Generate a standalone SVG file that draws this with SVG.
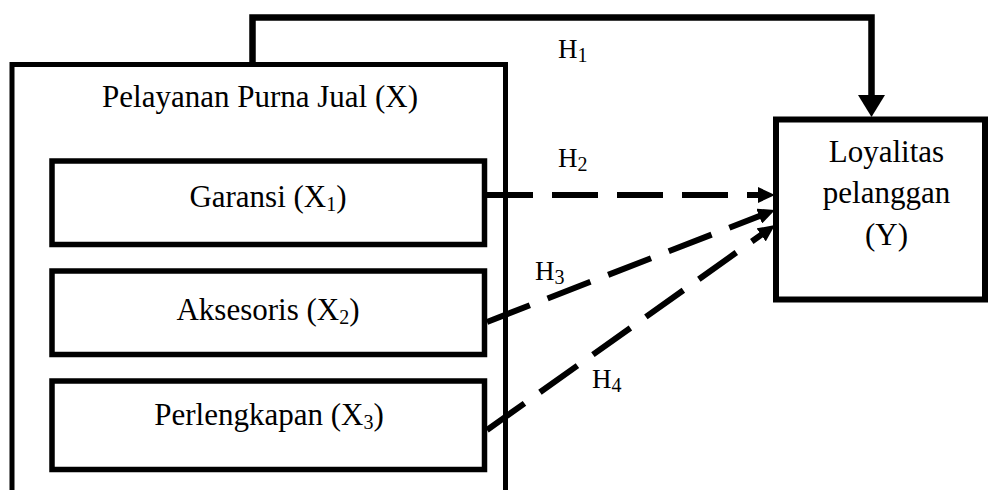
<svg xmlns="http://www.w3.org/2000/svg" width="989" height="490" viewBox="0 0 989 490">
<style>
text{font-family:"Liberation Serif","Times New Roman",serif;fill:#000}
.t{font-size:31px;text-anchor:middle}
.h{font-size:27px}
.sub{font-size:20px}
.box{fill:none;stroke:#000;stroke-width:5.5}
.solid{fill:none;stroke:#000;stroke-width:6.5}
.dash{fill:none;stroke:#000;stroke-width:6;stroke-dasharray:46 19}
</style>
<defs>
<marker id="ah" markerUnits="userSpaceOnUse" markerWidth="18" markerHeight="16" refX="5" refY="8" orient="auto">
<path d="M0,0 L17,8 L0,16 z" fill="#000"/>
</marker>
</defs>
<rect width="989" height="490" fill="#fff"/>
<g id="connectors">
<path class="solid" d="M252.5,65 V17.5 H871.5 V96"/>
<polygon points="858,95 885,95 871.5,117" fill="#000"/>
<line class="dash" x1="487" y1="195" x2="763" y2="195" marker-end="url(#ah)"/>
<line class="dash" x1="487" y1="322" x2="763.8" y2="214.3" marker-end="url(#ah)"/>
<line class="dash" x1="487" y1="430" x2="765.2" y2="232" marker-end="url(#ah)"/>
<text class="h" x="558" y="58">H<tspan class="sub" dy="4">1</tspan></text>
<text class="h" x="558" y="167">H<tspan class="sub" dy="4">2</tspan></text>
<text class="h" x="535" y="280">H<tspan class="sub" dy="4">3</tspan></text>
<text class="h" x="592" y="388">H<tspan class="sub" dy="4">4</tspan></text>
</g>
<g id="pelayanan">
<path fill="none" stroke="#000" stroke-width="5" d="M12,490 V64.5 H505.5 V490"/>
<text class="t" x="260" y="107">Pelayanan Purna Jual (X)</text>
</g>
<g id="garansi">
<rect class="box" x="52" y="161" width="432.5" height="83.5" fill="#fff"/>
<text class="t" x="268" y="207">Garansi (X<tspan class="sub" dy="4">1</tspan><tspan dy="-4">)</tspan></text>
</g>
<g id="aksesoris">
<rect class="box" x="52" y="271" width="432.5" height="83.5"/>
<text class="t" x="268" y="320">Aksesoris (X<tspan class="sub" dy="4">2</tspan><tspan dy="-4">)</tspan></text>
</g>
<g id="perlengkapan">
<rect class="box" x="52" y="381" width="432.5" height="88.5"/>
<text class="t" x="269" y="425">Perlengkapan (X<tspan class="sub" dy="4">3</tspan><tspan dy="-4">)</tspan></text>
</g>
<g id="loyalitas">
<rect x="776" y="119.5" width="209" height="180" fill="none" stroke="#000" stroke-width="6"/>
<text class="t" x="886.5" y="162">Loyalitas</text>
<text class="t" x="886.5" y="203">pelanggan</text>
<text class="t" x="886.5" y="245">(Y)</text>
</g>
</svg>
